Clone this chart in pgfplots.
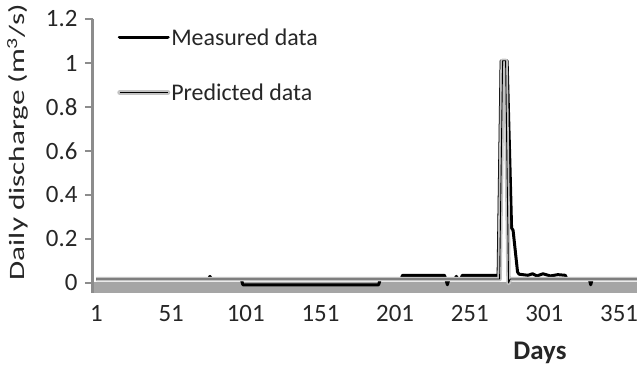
\documentclass[border=0pt]{standalone}
\usepackage{pgfplots}
\pgfplotsset{compat=1.18}
\usepackage{fontspec}
\usepackage{graphicx}
\setmainfont{Carlito}
\definecolor{bandgray}{RGB}{165,165,165}
\definecolor{predgray}{RGB}{195,195,195}
\begin{document}
\begin{tikzpicture}
\useasboundingbox (-92bp,-80bp) rectangle (545bp,292.9bp);
\begin{axis}[
  scale only axis,
  width=545bp, height=273.9bp,
  xmin=-2, xmax=363,
  ymin=-0.045, ymax=1.2,
  axis y line*=left, axis x line*=bottom,
  axis line style={draw=black!45, line width=2.4bp},
  every outer x axis line/.append style={draw=bandgray, line width=1bp},
  xtick={1,51,101,151,201,251,301,351},
  ytick={0,0.2,0.4,0.6,0.8,1,1.2},
  ytick style={draw=black!45, line width=2bp},
  xtick style={/pgfplots/major tick length=0pt},
  major tick length=7bp,
  tick align=outside,
  /pgf/number format/assume math mode=true,
  tick label style={font=\fontsize{25}{29}\selectfont, text=black!85},
  yticklabel style={xshift=-4bp},
  xticklabel style={yshift=-2bp},
  clip=false,
  xlabel={\textbf{Days}},
  xlabel style={font=\fontsize{27}{31}\selectfont, text=black!85, at={(axis description cs:0.822,-0.22)}, anchor=center},
  ylabel={\scalebox{1.42}[1]{Daily discharge (m\textsuperscript{3}/s)}},
  ylabel style={font=\fontsize{22}{26}\selectfont, text=black!85, at={(axis description cs:-0.136,0.55)}, anchor=center},
  legend style={at={(axis description cs:0.046,0.97)}, anchor=north west, draw=none, fill=none,
    font=\fontsize{24}{28}\selectfont, text=black!85, row sep=35bp, inner sep=0pt, nodes={inner sep=1bp}},
  legend cell align=left,
]
\fill[bandgray] (axis cs:-2,-0.045) rectangle (axis cs:363,0.004);
\addplot[black, line width=3bp, line join=round,
  legend image code/.code={\draw[black,line width=3.8bp,line cap=round] (0bp,0bp) -- (48bp,0bp);}]
coordinates {
(1,0.018) (76,0.018) (77,0.03) (78,0.018) (98,0.018) (99,-0.008) (190,-0.008) (191,0.018)
(205,0.018) (206,0.035) (234,0.035) (235,0.018) (236,-0.008) (237,0.018) (241,0.018)
(242,0.03) (243,0.018) (245,0.018) (246,0.035) (270,0.035) (272,1.01) (276,1.01)
(278,0.51) (279,0.25) (280,0.24) (283,0.05) (284,0.04) (290,0.035) (293,0.042)
(296,0.032) (300,0.042) (305,0.032) (310,0.038) (315,0.035) (316,0.018) (331,0.018)
(332,-0.008) (333,0.018) (363,0.018)
};
\addlegendentry{Measured data}
\addplot[predgray, line width=4.5bp, line join=round,
  legend image code/.code={\draw[predgray,line width=5bp,line cap=round] (0bp,0bp) -- (48bp,0bp);
    \draw[black,line width=1bp] (0bp,0bp) -- (48bp,0bp);}]
coordinates {
(1,0.018) (271,0.018) (273,1.01) (275,1.01) (277,0.0) (278,0.018) (363,0.018)
};
\addlegendentry{Predicted data}
\addplot[black, line width=0.9bp, line join=round, forget plot]
coordinates {
(1,0.018) (271,0.018) (273,1.01) (275,1.01) (277,0.0) (278,0.018) (363,0.018)
};
\draw[black!45, line width=2.4bp] (axis cs:-1.5,-0.045) -- (axis cs:-1.5,1.2);
\pgfplotsinvokeforeach{0,0.2,0.4,0.6,0.8,1,1.2}{
  \draw[black!45, line width=2bp] (axis cs:-1.5,#1) -- ++(-8bp,0bp);
}
\end{axis}
\end{tikzpicture}
\end{document}
